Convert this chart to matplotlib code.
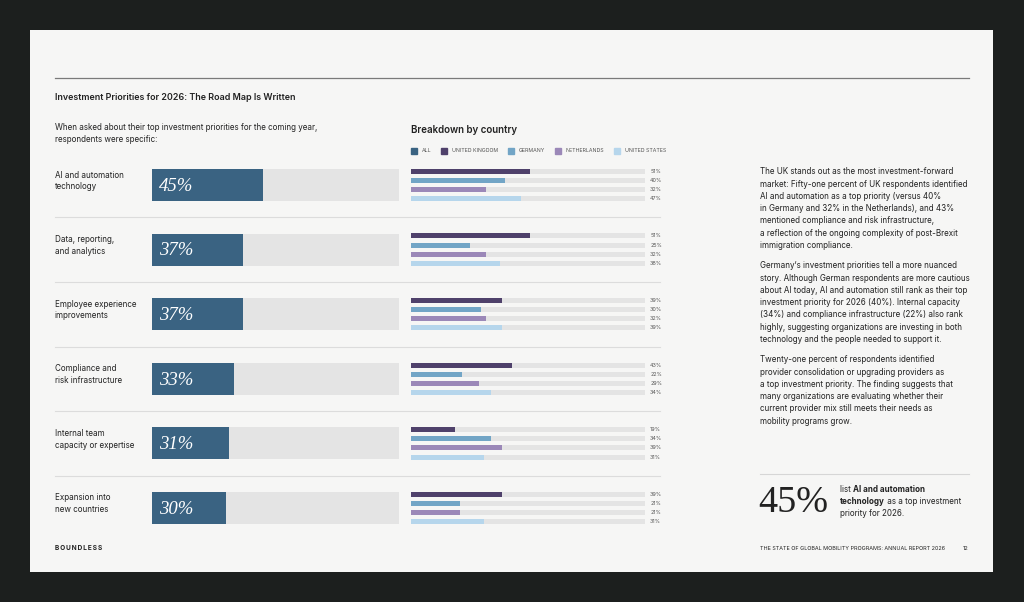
"""
plot.py - Investment Priorities for 2026 (report page recreation).

Left: overall share per priority (ALL). Middle: breakdown by country.
Right: commentary text and a call-out figure.
Saves out.png (1024x602).
"""

import matplotlib
matplotlib.use("Agg")
import matplotlib.pyplot as plt
from matplotlib.patches import Rectangle
from matplotlib.lines import Line2D

# ---------------------------------------------------------------------------
# data
# ---------------------------------------------------------------------------
categories = [
    "AI and automation\ntechnology",
    "Data, reporting,\nand analytics",
    "Employee experience\nimprovements",
    "Compliance and\nrisk infrastructure",
    "Internal team\ncapacity or expertise",
    "Expansion into\nnew countries",
]
all_pct = [45, 37, 37, 33, 31, 30]

countries = ["UNITED KINGDOM", "GERMANY", "NETHERLANDS", "UNITED STATES"]
uk_pct = [51, 51, 39, 43, 19, 39]
de_pct = [40, 25, 30, 22, 34, 21]
nl_pct = [32, 32, 32, 29, 39, 21]
us_pct = [47, 38, 39, 34, 31, 31]

# ---------------------------------------------------------------------------
# look
# ---------------------------------------------------------------------------
W, H, DPI = 1024, 602, 100
DARK = "#1c1f1e"
PAGE = "#f6f6f5"
TRACK = "#e4e4e4"
INK = "#222222"
GREY = "#555555"
C_ALL = "#3a6382"
C_COUNTRY = ["#4f416b", "#72a5c6", "#9b88b8", "#b6d6ec"]

SANS = ["Inter", "DejaVu Sans"]
SERIF = ["Liberation Serif", "DejaVu Serif"]

ROW0 = 185.0      # pixel centre of first row
STEP = 64.6       # pixel distance between rows


def px_box(x0, y0, x1, y1):
    """pixel box (top-left origin) -> figure fraction rect"""
    return [x0 / W, 1 - y1 / H, (x1 - x0) / W, (y1 - y0) / H]


def main():
    plt.rcParams["font.family"] = SANS
    fig = plt.figure(figsize=(W / DPI, H / DPI), dpi=DPI, facecolor=DARK)

    # background layer in pixel coords
    bg = fig.add_axes([0, 0, 1, 1])
    bg.set_xlim(0, W)
    bg.set_ylim(H, 0)
    bg.axis("off")
    bg.add_patch(Rectangle((30, 30), 963, 542, facecolor=PAGE, edgecolor="none"))
    bg.plot([55, 969], [78, 78], color="#7a7a7a", lw=0.9)

    bg.text(55, 97, "Investment Priorities for 2026: The Road Map Is Written",
            fontsize=6.45, fontweight="semibold", color=INK, va="center")
    bg.text(55, 128, "When asked about their top investment priorities for the coming year,",
            fontsize=5.8, color=INK, va="center")
    bg.text(55, 140, "respondents were specific:", fontsize=5.8, color=INK, va="center")
    bg.text(411, 130, "Breakdown by country", fontsize=7, fontweight="semibold",
            color=INK, va="center")

    n = len(categories)
    # row separators + category labels
    for i in range(n):
        yc = ROW0 + i * STEP
        for j, line in enumerate(categories[i].split("\n")):
            bg.text(55, yc - 10 + j * 11.7, line, fontsize=5.8, color=INK, va="center")
        if i < n - 1:
            bg.plot([55, 660], [yc + STEP / 2] * 2, color="#dcdcdc", lw=0.8)

    # --- ALL bars --------------------------------------------------------
    top = ROW0 - STEP / 2
    bot = ROW0 + (n - 0.5) * STEP
    ax = fig.add_axes(px_box(152, top, 399, bot))
    ax.set_xlim(0, 100)
    ax.set_ylim(n - 0.5, -0.5)
    ax.axis("off")
    ys = list(range(n))
    hbar = 32 / STEP
    ax.barh(ys, [100] * n, height=hbar, color=TRACK)
    ax.barh(ys, all_pct, height=hbar, color=C_ALL)
    for y, v in zip(ys, all_pct):
        ax.text(3.0, y + 0.02, f"{v}%", fontsize=13.5, style="italic", family=SERIF,
                color="white", va="center", ha="left")

    # --- country bars ----------------------------------------------------
    cx = fig.add_axes(px_box(411, top, 645, bot))
    cx.set_xlim(0, 100)
    cx.set_ylim(n - 0.5, -0.5)
    cx.axis("off")
    series = [uk_pct, de_pct, nl_pct, us_pct]
    hsmall = 5 / STEP
    for k, (vals, col) in enumerate(zip(series, C_COUNTRY)):
        off = (k - 1.5) * 9.1 / STEP
        yy = [y + off for y in ys]
        cx.barh(yy, [100] * n, height=hsmall, color=TRACK)
        cx.barh(yy, vals, height=hsmall, color=col)
        for y, v in zip(yy, vals):
            cx.text(102.2, y, f"{v}%", fontsize=3.9, color=GREY, va="center",
                    ha="left", clip_on=False)

    # legend
    handles = [Line2D([], [], ls="none", marker="s", markersize=4.4, color=c)
               for c in [C_ALL] + C_COUNTRY]
    labels = ["ALL"] + countries
    leg = fig.legend(handles, labels, loc="center left",
                     bbox_to_anchor=(410.5 / W, 1 - 151 / H), ncol=5, frameon=False,
                     fontsize=3.75, handlelength=1.25, handletextpad=0.98,
                     columnspacing=1.73, borderpad=0, borderaxespad=0)
    for t in leg.get_texts():
        t.set_color(GREY)

    # --- right column commentary ----------------------------------------
    paragraphs = [
        (172, ["The UK stands out as the most investment-forward",
               "market: Fifty-one percent of UK respondents identified",
               "AI and automation as a top priority (versus 40%",
               "in Germany and 32% in the Netherlands), and 43%",
               "mentioned compliance and risk infrastructure,",
               "a reflection of the ongoing complexity of post-Brexit",
               "immigration compliance."]),
        (266, ["Germany\u2019s investment priorities tell a more nuanced",
               "story. Although German respondents are more cautious",
               "about AI today, AI and automation still rank as their top",
               "investment priority for 2026 (40%). Internal capacity",
               "(34%) and compliance infrastructure (22%) also rank",
               "highly, suggesting organizations are investing in both",
               "technology and the people needed to support it."]),
        (360, ["Twenty-one percent of respondents identified",
               "provider consolidation or upgrading providers as",
               "a top investment priority. The finding suggests that",
               "many organizations are evaluating whether their",
               "current provider mix still meets their needs as",
               "mobility programs grow."]),
    ]
    for y0, lines in paragraphs:
        for j, line in enumerate(lines):
            bg.text(760, y0 + j * 12.2, line, fontsize=5.8, color=INK, va="center")

    bg.plot([760, 969], [474, 474], color="#d6d6d6", lw=0.8)
    bg.text(758, 503, "45%", fontsize=27.5, family=SERIF, color=INK, va="center")

    # call-out with bold fragments
    renderer = fig.canvas.get_renderer()
    inv = bg.transData.inverted()

    def run(x, y, parts):
        for txt, bold in parts:
            t = bg.text(x, y, txt, fontsize=5.8, color=INK, va="center",
                        fontweight="bold" if bold else "normal")
            bb = t.get_window_extent(renderer)
            x = inv.transform((bb.x1, bb.y0))[0]

    run(840, 489, [("list ", False), ("AI and automation", True)])
    run(840, 501.5, [("technology", True), (" as a top investment", False)])
    run(840, 514, [("priority for 2026.", False)])

    # footer
    bg.text(55, 548, "B\u2009O\u2009U\u2009N\u2009D\u2009L\u2009E\u2009S\u2009S",
            fontsize=4.7, fontweight="bold", color=INK, va="center")
    bg.text(760, 548, "THE STATE OF GLOBAL MOBILITY PROGRAMS: ANNUAL REPORT 2026",
            fontsize=3.9, color=INK, va="center")
    bg.text(963, 548, "12", fontsize=4.1, color=INK, va="center")

    fig.savefig("out.png", dpi=DPI, facecolor=DARK)
    plt.close(fig)


if __name__ == "__main__":
    main()
